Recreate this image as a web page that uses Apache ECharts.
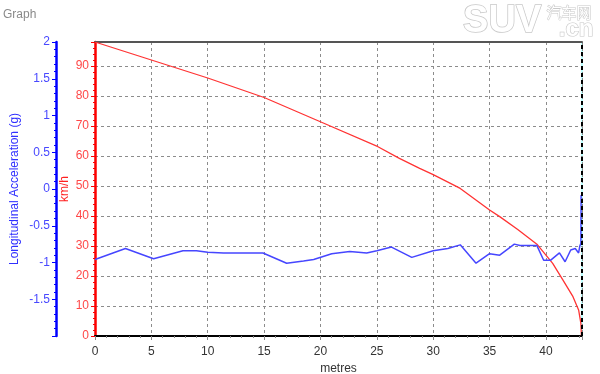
<!DOCTYPE html>
<html><head><meta charset="utf-8">
<script src="https://cdn.jsdelivr.net/npm/echarts@6/dist/echarts.min.js"></script>
<style>html,body{margin:0;padding:0;background:#fff}#c{width:600px;height:374px}</style>
</head><body><div id="c"></div>
<script>
// distance (metres) vs speed (km/h)
const speedData = [[0,98],[5,92],[10,86],[15,79.5],[20.25,71],[25.1,63.1],[27,59.2],[28.8,55.9],[30,53.8],[32.4,49.2],[35,42],[35.9,39.8],[37.5,35.5],[39.2,30.6],[40.6,24.2],[41.5,18.7],[42.4,13.1],[42.9,8.7],[43.1,4.2],[43.15,0]];
// distance (metres) vs longitudinal acceleration (g)
const accelData = [[0,-0.96],[2.7,-0.81],[5.2,-0.95],[7.8,-0.84],[9.0,-0.84],[10.0,-0.86],[11.4,-0.87],[14.9,-0.87],[17.0,-1.01],[18.5,-0.98],[19.4,-0.96],[21.0,-0.88],[22.6,-0.85],[24.1,-0.87],[25.0,-0.84],[26.3,-0.79],[28.1,-0.93],[30.0,-0.84],[31.3,-0.81],[32.4,-0.76],[33.8,-1.01],[35.0,-0.88],[35.9,-0.90],[37.2,-0.75],[37.7,-0.77],[39.2,-0.77],[39.8,-0.97],[40.4,-0.97],[41.2,-0.87],[41.7,-0.99],[42.2,-0.83],[42.6,-0.81],[42.9,-0.87],[43.0,-0.78],[43.1,-0.74],[43.12,-0.08]];
const xRange = [0, 43.2];
const speedRange = [0, 98];
const accelRange = [-2, 2];
const titleText = 'Graph';
const xName = 'metres';
const speedName = 'km/h';
const accelName = 'Longitudinal Acceleration (g)';

const font = '"Liberation Sans", Arial, sans-serif';
const chart = echarts.init(document.getElementById('c'));
const gridDash = {color:'#8c8c8c', type:[3,3], width:1};
chart.setOption({
  animation:false,
  title:{text:titleText, left:-2, top:4, textStyle:{color:'#8a8a8a', fontSize:12, fontWeight:'normal', fontFamily:font}},
  graphic:[
    {type:'text', right:58, top:2, style:{text:'SUV', fontSize:38, fontWeight:'bold', fontFamily:font, fill:'#fff', stroke:'#c8c8c8', lineWidth:1.5}},
    {type:'text', right:8, top:4, style:{text:'汽车网', fontSize:15, fontFamily:'"Noto Sans CJK SC"', fill:'#fff', stroke:'#c8c8c8', lineWidth:1}},
    {type:'text', right:6, top:17, style:{text:'.cn', fontSize:24, fontWeight:'bold', fontFamily:font, fill:'#fff', stroke:'#c8c8c8', lineWidth:1.2}}
  ],
  grid:{left:95, right:18, top:42, bottom:38, outerBoundsMode:'none', containLabel:false, show:true, borderColor:'#7fffff', borderWidth:1},
  xAxis:[{
    type:'value', min:xRange[0], max:xRange[1], interval:5,
    name:xName, nameLocation:'middle', nameGap:25, nameTextStyle:{color:'#333', fontSize:12, fontFamily:font},
    axisLine:{onZero:false, lineStyle:{color:'#000', width:2}},
    axisTick:{show:true, lineStyle:{color:'#888'}, length:4},
    minorTick:{show:true, splitNumber:5, length:2, lineStyle:{color:'#888'}},
    axisLabel:{color:'#333', fontSize:12, fontFamily:font, showMaxLabel:false, margin:10},
    splitLine:{show:true, lineStyle:gridDash}
  },{
    type:'value', position:'top', min:xRange[0], max:xRange[1],
    axisLine:{show:true, onZero:false, lineStyle:{color:'#555', width:2}},
    axisTick:{show:false}, axisLabel:{show:false}, splitLine:{show:false}
  }],
  yAxis:[{
    type:'value', position:'left', min:speedRange[0], max:speedRange[1], interval:10,
    name:speedName, nameLocation:'middle', nameGap:24, nameMoveOverlap:false, nameTextStyle:{color:'#ff2020', fontSize:12, fontFamily:font},
    axisLine:{show:true, onZero:false, lineStyle:{color:'#ff0000', width:2.5}},
    axisTick:{show:true, lineStyle:{color:'#ff0000'}, length:4},
    minorTick:{show:true, splitNumber:5, length:2, lineStyle:{color:'#ff0000'}},
    axisLabel:{color:'#ff4848', fontSize:12, fontFamily:font, showMaxLabel:false, margin:6},
    splitLine:{show:true, lineStyle:gridDash}
  },{
    type:'value', position:'left', offset:39, min:accelRange[0], max:accelRange[1], interval:0.5,
    name:accelName, nameLocation:'middle', nameGap:35, nameMoveOverlap:false, nameTextStyle:{color:'#3030ff', fontSize:12, fontFamily:font},
    axisLine:{show:true, onZero:false, lineStyle:{color:'#0000ff', width:2.5}},
    axisTick:{show:true, lineStyle:{color:'#0000ff'}, length:4},
    minorTick:{show:true, splitNumber:5, length:2, lineStyle:{color:'#0000ff'}},
    axisLabel:{color:'#4848ff', fontSize:12, fontFamily:font, showMinLabel:false, margin:6},
    splitLine:{show:false}
  }],
  series:[{
    type:'line', xAxisIndex:0, yAxisIndex:0, data:speedData, showSymbol:false,
    lineStyle:{color:'#ff3333', width:1.3}, z:3,
    markLine:{silent:true, symbol:'none', label:{show:false}, lineStyle:{color:'#000', type:[4,3], width:2}, data:[{xAxis:xRange[1]}]}
  },{
    type:'line', xAxisIndex:0, yAxisIndex:1, data:accelData, showSymbol:false,
    lineStyle:{color:'#4646ff', width:1.5}, z:4
  }]
});
</script></body></html>
